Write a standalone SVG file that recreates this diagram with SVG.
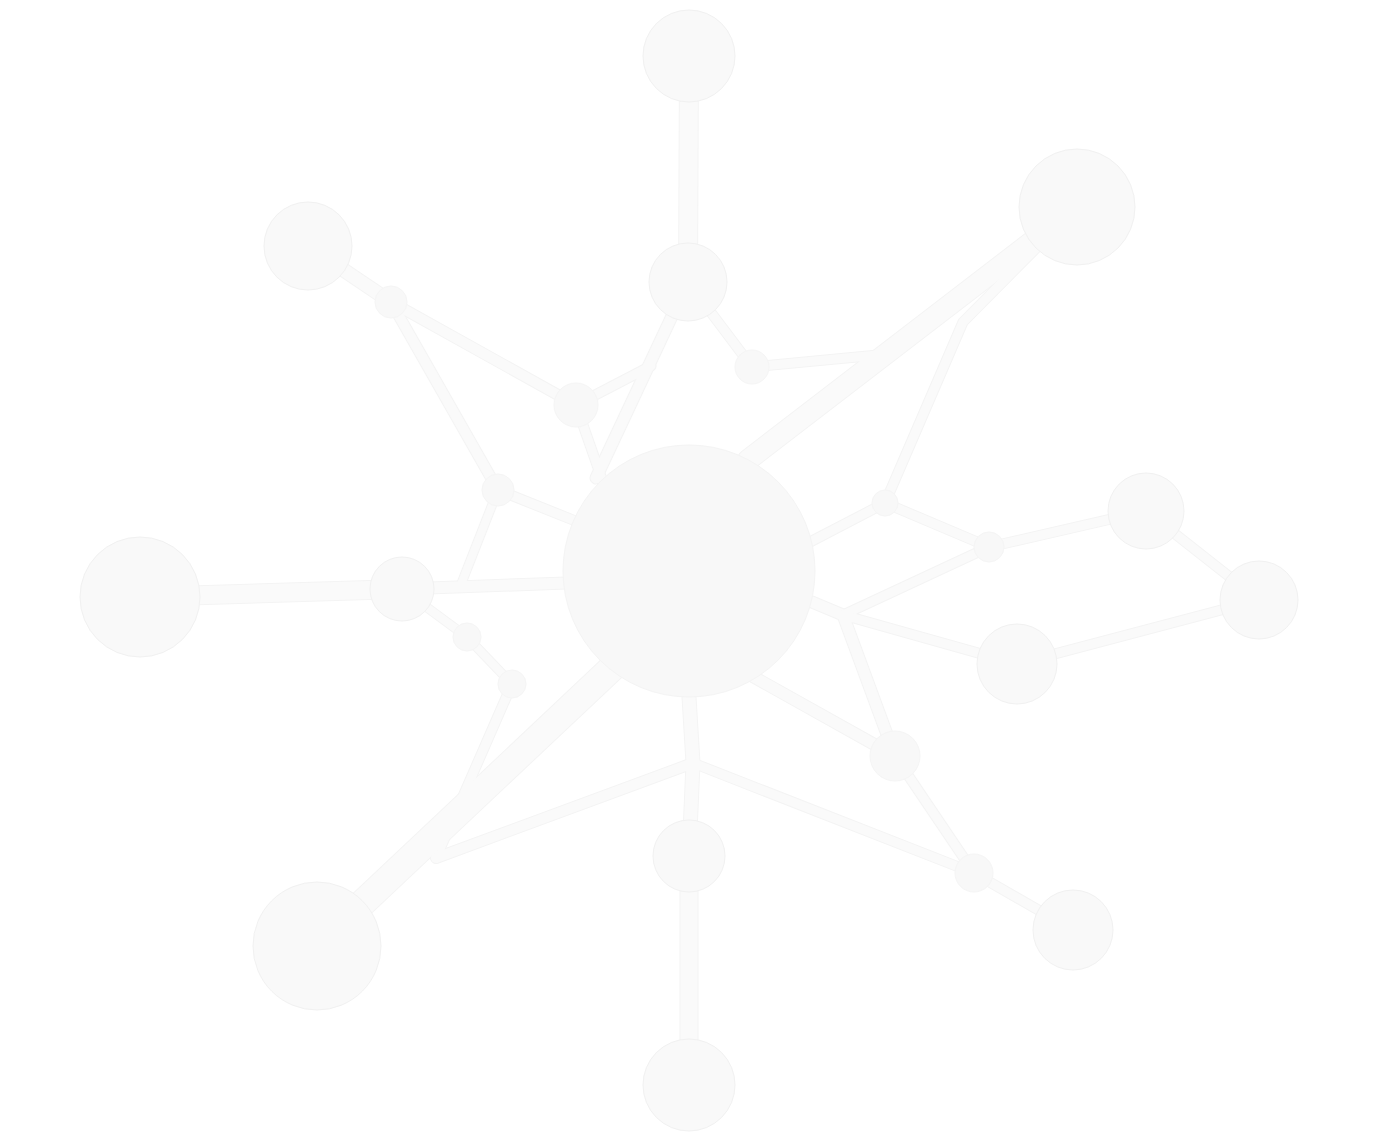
<svg xmlns="http://www.w3.org/2000/svg" width="1378" height="1142" viewBox="0 0 1378 1142">
<style>
.bg{fill:#ffffff}
.eo{fill:none;stroke:#f4f4f4;stroke-linecap:round;stroke-linejoin:round}
.ef{fill:none;stroke:#fafafa;stroke-linecap:round;stroke-linejoin:round}
.node{fill:#f9f9f9;stroke:#f1f1f1;stroke-width:1}
.small{fill:#f8f8f8;stroke:#f5f5f5;stroke-width:1}
.hub{fill:#f8f8f8;stroke:#f4f4f4;stroke-width:1}
</style>
<rect class="bg" x="0" y="0" width="1378" height="1142"/>
<g id="connectors">
<g class="eo">
<path d="M689,56 L688,282" stroke-width="20"/>
<path d="M688,282 L596,478" stroke-width="13"/>
<path d="M576,405 L651,366" stroke-width="11"/>
<path d="M308,246 L391,302" stroke-width="15"/>
<path d="M391,302 L576,405" stroke-width="12"/>
<path d="M391,302 L498,490" stroke-width="12"/>
<path d="M498,490 L578,522" stroke-width="11"/>
<path d="M498,490 L460,587" stroke-width="10"/>
<path d="M576,405 L604,485" stroke-width="11"/>
<path d="M140,597 L402,589" stroke-width="20"/>
<path d="M402,589 L566,583" stroke-width="13"/>
<path d="M402,589 L467,637 L512,684" stroke-width="10"/>
<path d="M512,684 L436,858" stroke-width="11"/>
<path d="M612,668 L317,946" stroke-width="28"/>
<path d="M693,763 L436,858" stroke-width="12"/>
<path d="M689,697 L693,763 L689,856" stroke-width="15"/>
<path d="M689,856 L689,1085" stroke-width="19"/>
<path d="M693,763 L974,873" stroke-width="11"/>
<path d="M974,873 L1073,930" stroke-width="11"/>
<path d="M895,756 L974,873" stroke-width="11"/>
<path d="M752,676 L895,756" stroke-width="13"/>
<path d="M812,602 L843,615 L895,756" stroke-width="13"/>
<path d="M843,615 L989,547" stroke-width="11"/>
<path d="M843,615 L1017,664" stroke-width="11"/>
<path d="M810,542 L885,503" stroke-width="11"/>
<path d="M885,503 L989,547 L1146,511 L1259,600 L1017,664" stroke-width="11"/>
<path d="M885,503 L963,322 L1077,207" stroke-width="11"/>
<path d="M1077,207 L748,460" stroke-width="22"/>
<path d="M688,282 L752,367 L878,355" stroke-width="11"/>
</g>
<g class="ef">
<path d="M689,56 L688,282" stroke-width="18"/>
<path d="M688,282 L596,478" stroke-width="11"/>
<path d="M576,405 L651,366" stroke-width="9"/>
<path d="M308,246 L391,302" stroke-width="13"/>
<path d="M391,302 L576,405" stroke-width="10"/>
<path d="M391,302 L498,490" stroke-width="10"/>
<path d="M498,490 L578,522" stroke-width="9"/>
<path d="M498,490 L460,587" stroke-width="8"/>
<path d="M576,405 L604,485" stroke-width="9"/>
<path d="M140,597 L402,589" stroke-width="18"/>
<path d="M402,589 L566,583" stroke-width="11"/>
<path d="M402,589 L467,637 L512,684" stroke-width="8"/>
<path d="M512,684 L436,858" stroke-width="9"/>
<path d="M612,668 L317,946" stroke-width="26"/>
<path d="M693,763 L436,858" stroke-width="10"/>
<path d="M689,697 L693,763 L689,856" stroke-width="13"/>
<path d="M689,856 L689,1085" stroke-width="17"/>
<path d="M693,763 L974,873" stroke-width="9"/>
<path d="M974,873 L1073,930" stroke-width="9"/>
<path d="M895,756 L974,873" stroke-width="9"/>
<path d="M752,676 L895,756" stroke-width="11"/>
<path d="M812,602 L843,615 L895,756" stroke-width="11"/>
<path d="M843,615 L989,547" stroke-width="9"/>
<path d="M843,615 L1017,664" stroke-width="9"/>
<path d="M810,542 L885,503" stroke-width="9"/>
<path d="M885,503 L989,547 L1146,511 L1259,600 L1017,664" stroke-width="9"/>
<path d="M885,503 L963,322 L1077,207" stroke-width="9"/>
<path d="M1077,207 L748,460" stroke-width="20"/>
<path d="M688,282 L752,367 L878,355" stroke-width="9"/>
</g>
</g>
<g id="node-center"><circle class="hub" cx="689" cy="571" r="126"/></g>
<g id="node-top"><circle class="node" cx="689" cy="56" r="46"/></g>
<g id="node-topmid"><circle class="node" cx="688" cy="282" r="39"/></g>
<g id="node-topright"><circle class="node" cx="1077" cy="207" r="58"/></g>
<g id="node-s1"><circle class="small" cx="752" cy="367" r="17"/></g>
<g id="node-topleft"><circle class="node" cx="308" cy="246" r="44"/></g>
<g id="node-s2"><circle class="small" cx="391" cy="302" r="16"/></g>
<g id="node-s3"><circle class="small" cx="576" cy="405" r="22"/></g>
<g id="node-s4"><circle class="small" cx="498" cy="490" r="16"/></g>
<g id="node-left"><circle class="node" cx="140" cy="597" r="60"/></g>
<g id="node-leftmid"><circle class="node" cx="402" cy="589" r="32"/></g>
<g id="node-s5"><circle class="small" cx="467" cy="637" r="14"/></g>
<g id="node-s6"><circle class="small" cx="512" cy="684" r="14"/></g>
<g id="node-bottomleft"><circle class="node" cx="317" cy="946" r="64"/></g>
<g id="node-bottommid"><circle class="node" cx="689" cy="856" r="36"/></g>
<g id="node-bottom"><circle class="node" cx="689" cy="1085" r="46"/></g>
<g id="node-r1"><circle class="node" cx="1146" cy="511" r="38"/></g>
<g id="node-r2"><circle class="node" cx="1259" cy="600" r="39"/></g>
<g id="node-r3"><circle class="node" cx="1017" cy="664" r="40"/></g>
<g id="node-bottomright"><circle class="node" cx="1073" cy="930" r="40"/></g>
<g id="node-s7"><circle class="small" cx="895" cy="756" r="25"/></g>
<g id="node-s8"><circle class="small" cx="974" cy="873" r="19"/></g>
<g id="node-s9"><circle class="small" cx="989" cy="547" r="15"/></g>
<g id="node-j1"><circle class="small" cx="885" cy="503" r="13"/></g>
</svg>
